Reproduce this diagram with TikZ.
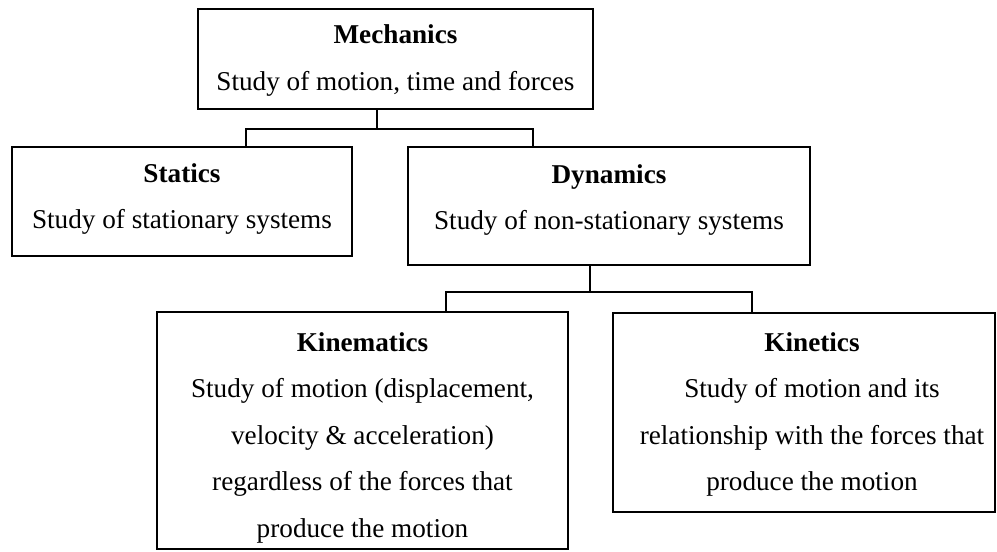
\documentclass[tikz,border=0pt]{standalone}
\usepackage{fontspec}
\setmainfont{Liberation Serif}
\begin{document}
\begin{tikzpicture}[x=1pt,y=-1pt,
  boxnode/.style={draw=black, line width=1.3pt, inner sep=0pt, rectangle},
  txt/.style={anchor=north, inner sep=0pt, align=center, font=\fontsize{27.2}{46.5}\selectfont},
  link/.style={draw=black, line width=1.3pt}]
\useasboundingbox[fill=white] (0,0) rectangle (997,552);
% boxes
\node[boxnode, minimum width=395pt, minimum height=100pt] (mech) at (395.5,59) {};
\node[boxnode, minimum width=340pt, minimum height=109pt] (stat) at (182,201.5) {};
\node[boxnode, minimum width=402pt, minimum height=118pt] (dyn) at (609,206) {};
\node[boxnode, minimum width=411pt, minimum height=237pt] (kinm) at (362.5,430.5) {};
\node[boxnode, minimum width=382pt, minimum height=199pt] (kint) at (804,412.5) {};
% texts
\node[txt] (mechT) at ([yshift=-16.5pt]mech.north) {\textbf{Mechanics}\\Study of motion, time and forces};
\node[txt] (statT) at ([yshift=-17pt]stat.north) {\textbf{Statics}\\Study of stationary systems};
\node[txt] (dynT) at ([yshift=-18pt]dyn.north) {\textbf{Dynamics}\\Study of non-stationary systems};
\node[txt] (kinmT) at ([yshift=-21pt]kinm.north) {\textbf{Kinematics}\\Study of motion (displacement,\\velocity \& acceleration)\\regardless of the forces that\\produce the motion};
\node[txt] (kintT) at ([yshift=-20pt]kint.north -| 812,0) {\textbf{Kinetics}\\Study of motion and its\\relationship with the forces that\\produce the motion};
% connectors
\coordinate (j1) at (377,129);
\coordinate (j1l) at (246,129);
\coordinate (j1r) at (533,129);
\coordinate (j2) at (590,292);
\coordinate (j2l) at (446,292);
\coordinate (j2r) at (752,292);
\draw[link] (mech.south -| j1) -- (j1);
\draw[link] (stat.north -| j1l) -- (j1l) -- (j1r) -- (dyn.north -| j1r);
\draw[link] (dyn.south -| j2) -- (j2);
\draw[link] (kinm.north -| j2l) -- (j2l) -- (j2r) -- (kint.north -| j2r);
\end{tikzpicture}
\end{document}
